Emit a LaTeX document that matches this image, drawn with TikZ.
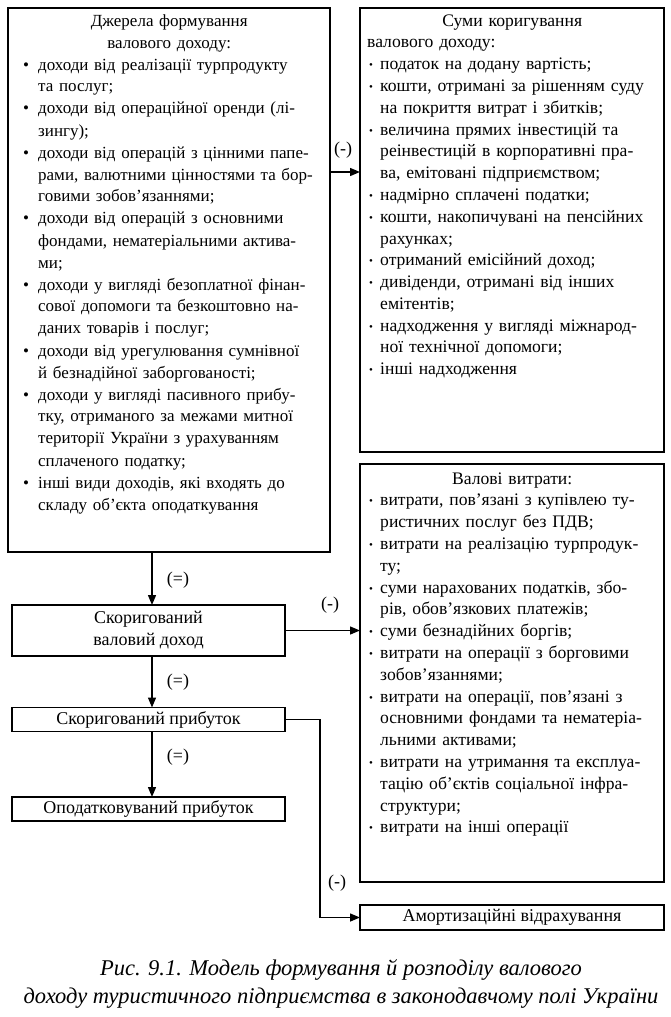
\documentclass[tikz,border=0pt]{standalone}
\usepackage{fontspec}
\setmainfont{Liberation Serif}
\usetikzlibrary{arrows.meta,calc}
\newcommand\bbul{\makebox[18pt][l]{\hspace*{3pt}•}}
\newcommand\bind{\hspace*{18pt}}
\newcommand\sbul{\makebox[13pt][l]{\hspace*{2pt}\raisebox{1pt}{\fontsize{11}{11}\selectfont •}}}
\newcommand\sind{\hspace*{13pt}}
\tikzset{
  box/.style={draw, line width=1.4pt, inner sep=0pt, outer sep=0pt},
  txt/.style={inner sep=0pt, align=left, font=\fontsize{17}{22}\selectfont},
  rtxt/.style={inner sep=0pt, align=left, font=\fontsize{17.6}{21.8}\selectfont},
  btxt/.style={inner sep=0pt, align=center, font=\fontsize{18}{22}\selectfont},
  lbl/.style={inner sep=0pt, font=\fontsize{18}{18}\selectfont},
  arr/.style={line width=1.4pt, -{Triangle[length=10pt,width=8pt]}},
}
\begin{document}
\begin{tikzpicture}[x=1pt,y=-1pt]
\useasboundingbox (0,0) rectangle (671,1017);
% boxes
\node[box, minimum width=322pt, minimum height=544pt] (src) at (169,280) {};
\node[box, minimum width=304pt, minimum height=444pt] (adj) at (512,230) {};
\node[box, minimum width=304pt, minimum height=418pt] (exp) at (512,673) {};
\node[box, minimum width=273pt, minimum height=51pt] (cvd) at (148.5,630.5) {};
\node[box, minimum width=273pt, minimum height=24pt] (cp) at (148.5,719.5) {};
\node[box, minimum width=273pt, minimum height=24pt] (tp) at (148.5,809) {};
\node[box, minimum width=304pt, minimum height=25pt] (am) at (512,917.5) {};
% texts
\node[txt, text width=298pt, anchor=base west] (srct) at (20,26) {%
\makebox[\linewidth]{Джерела формування}\\
\makebox[\linewidth]{валового доходу:}\\
\bbul доходи від реалізації турпродукту\\
\bind та послуг;\\
\bbul доходи від операційної оренди (лі-\\
\bind зингу);\\
\bbul доходи від операцій з цінними папе-\\
\bind рами, валютними цінностями та бор-\\
\bind говими зобов’язаннями;\\
\bbul доходи від операцій з основними\\
\bind фондами, нематеріальними актива-\\
\bind ми;\\
\bbul доходи у вигляді безоплатної фінан-\\
\bind сової допомоги та безкоштовно на-\\
\bind даних товарів і послуг;\\
\bbul доходи від урегулювання сумнівної\\
\bind й безнадійної заборгованості;\\
\bbul доходи у вигляді пасивного прибу-\\
\bind тку, отриманого за межами митної\\
\bind території України з урахуванням\\
\bind сплаченого податку;\\
\bbul інші види доходів, які входять до\\
\bind складу об’єкта оподаткування};
\node[rtxt, text width=290pt, anchor=base west] (adjt) at (367,26) {%
\makebox[\linewidth]{Суми коригування}\\
валового доходу:\\
\sbul податок на додану вартість;\\
\sbul кошти, отримані за рішенням суду\\
\sind на покриття витрат і збитків;\\
\sbul величина прямих інвестицій та\\
\sind реінвестицій в корпоративні пра-\\
\sind ва, емітовані підприємством;\\
\sbul надмірно сплачені податки;\\
\sbul кошти, накопичувані на пенсійних\\
\sind рахунках;\\
\sbul отриманий емісійний доход;\\
\sbul дивіденди, отримані від інших\\
\sind емітентів;\\
\sbul надходження у вигляді міжнарод-\\
\sind ної технічної допомоги;\\
\sbul інші надходження};
\node[rtxt, text width=290pt, anchor=base west] (expt) at (367,484) {%
\makebox[\linewidth]{Валові витрати:}\\
\sbul витрати, пов’язані з купівлею ту-\\
\sind ристичних послуг без ПДВ;\\
\sbul витрати на реалізацію турпродук-\\
\sind ту;\\
\sbul суми нарахованих податків, збо-\\
\sind рів, обов’язкових платежів;\\
\sbul суми безнадійних боргів;\\
\sbul витрати на операції з борговими\\
\sind зобов’язаннями;\\
\sbul витрати на операції, пов’язані з\\
\sind основними фондами та нематеріа-\\
\sind льними активами;\\
\sbul витрати на утримання та експлуа-\\
\sind тацію об’єктів соціальної інфра-\\
\sind структури;\\
\sbul витрати на інші операції};
\node[btxt] (cvdt) at (cvd.center) {Скоригований\\валовий доход};
\node[btxt] (cpt) at (cp.center) {Скоригований прибуток};
\node[btxt] (tpt) at (tp.center) {Оподатковуваний прибуток};
\node[btxt] (amt) at (am.center) {Амортизаційні відрахування};
% connectors
\coordinate (ax) at (152,0);
\coordinate (y1) at (0,172);
\coordinate (tx) at (320,0);
\draw[arr] (src.south -| ax) -- (cvd.north -| ax);
\draw[arr] (cvd.south -| ax) -- (cp.north -| ax);
\draw[arr] (cp.south -| ax) -- (tp.north -| ax);
\draw[arr] (src.east |- y1) -- (adj.west |- y1);
\draw[arr] (cvd.east) -- (cvd.east -| exp.west);
\draw[arr] (cp.east) -| (tx |- am.west) -- (am.west);
% labels
\node[lbl] (l1) at (343,150) {(-)};
\node[lbl] (l2) at (330,605) {(-)};
\node[lbl] (l3) at (337,883) {(-)};
\node[lbl] (e1) at (178,580) {(=)};
\node[lbl] (e2) at (178,682) {(=)};
\node[lbl] (e3) at (178,757) {(=)};
% caption
\node[inner sep=0pt, align=center, font=\fontsize{22.5}{28}\selectfont\itshape, anchor=base] (cap) at (341,1003)
 {Рис. 9.1. Модель формування й розподілу валового\\
 доходу туристичного підприємства в законодавчому полі України};
\end{tikzpicture}
\end{document}
